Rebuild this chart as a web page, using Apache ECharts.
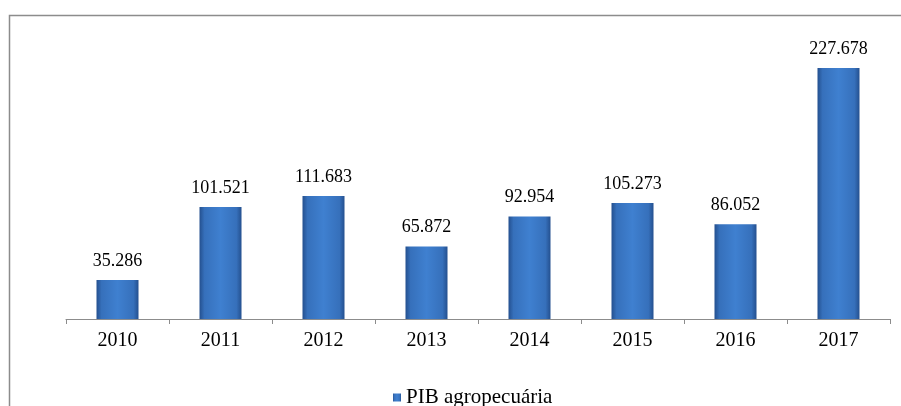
<!DOCTYPE html>
<html>
<head>
<meta charset="utf-8">
<script src="https://cdn.jsdelivr.net/npm/echarts@6/dist/echarts.min.js"></script>
<style>
html, body { margin: 0; padding: 0; background: #fff; }
#chart { width: 901px; height: 406px; }
</style>
</head>
<body>
<div id="chart"></div>
<script>
// dados
var anos = ['2010', '2011', '2012', '2013', '2014', '2015', '2016', '2017'];
var pibAgro = [35.286, 101.521, 111.683, 65.872, 92.954, 105.273, 86.052, 227.678];
var nomeSerie = 'PIB agropecuária';

var fonte = 'Liberation Serif';

var myChart = echarts.init(document.getElementById('chart'), null, {renderer: 'canvas'});

var corBarra = new echarts.graphic.LinearGradient(0, 0, 1, 0, [
	{offset: 0, color: '#24508f'},
	{offset: 0.12, color: '#3670bb'},
	{offset: 0.5, color: '#3f80d0'},
	{offset: 0.88, color: '#3670bb'},
	{offset: 1, color: '#24508f'}
]);

var option = {
	animation: false,
	textStyle: {fontFamily: fonte},
	graphic: [
		{
			type: 'rect',
			shape: {x: 9.5, y: 15.5, width: 950, height: 450},
			style: {fill: 'none', stroke: '#8c8c8c', lineWidth: 1.5}
		}
	],
	grid: {left: 66, right: 11, top: 43.4, bottom: 87},
	legend: {
		top: 387,
		left: 393,
		padding: 0,
		itemWidth: 8,
		itemHeight: 8,
		itemGap: 6,
		icon: 'rect',
		formatter: function (name) { return '{t|' + name + '}'; },
		textStyle: {
			fontFamily: fonte,
			fontSize: 21,
			color: '#000',
			rich: {t: {fontFamily: fonte, fontSize: 21, color: '#000', lineHeight: 20}}
		},
		data: [nomeSerie]
	},
	xAxis: {
		type: 'category',
		data: anos,
		boundaryGap: true,
		axisLine: {lineStyle: {color: '#8c8c8c', width: 1}},
		axisTick: {show: true, length: 5, lineStyle: {color: '#8c8c8c'}},
		axisLabel: {fontFamily: fonte, fontSize: 20, color: '#000', margin: 12}
	},
	yAxis: {
		type: 'value',
		min: 0,
		max: 250,
		show: false,
		splitLine: {show: false}
	},
	series: [
		{
			name: nomeSerie,
			type: 'bar',
			data: pibAgro,
			barWidth: 42,
			itemStyle: {color: corBarra},
			label: {
				show: true,
				position: 'top',
				distance: 10,
				fontFamily: fonte,
				fontSize: 18,
				color: '#000',
				formatter: function (p) { return p.value.toFixed(3); }
			}
		}
	]
};

myChart.setOption(option, true);
</script>
</body>
</html>
